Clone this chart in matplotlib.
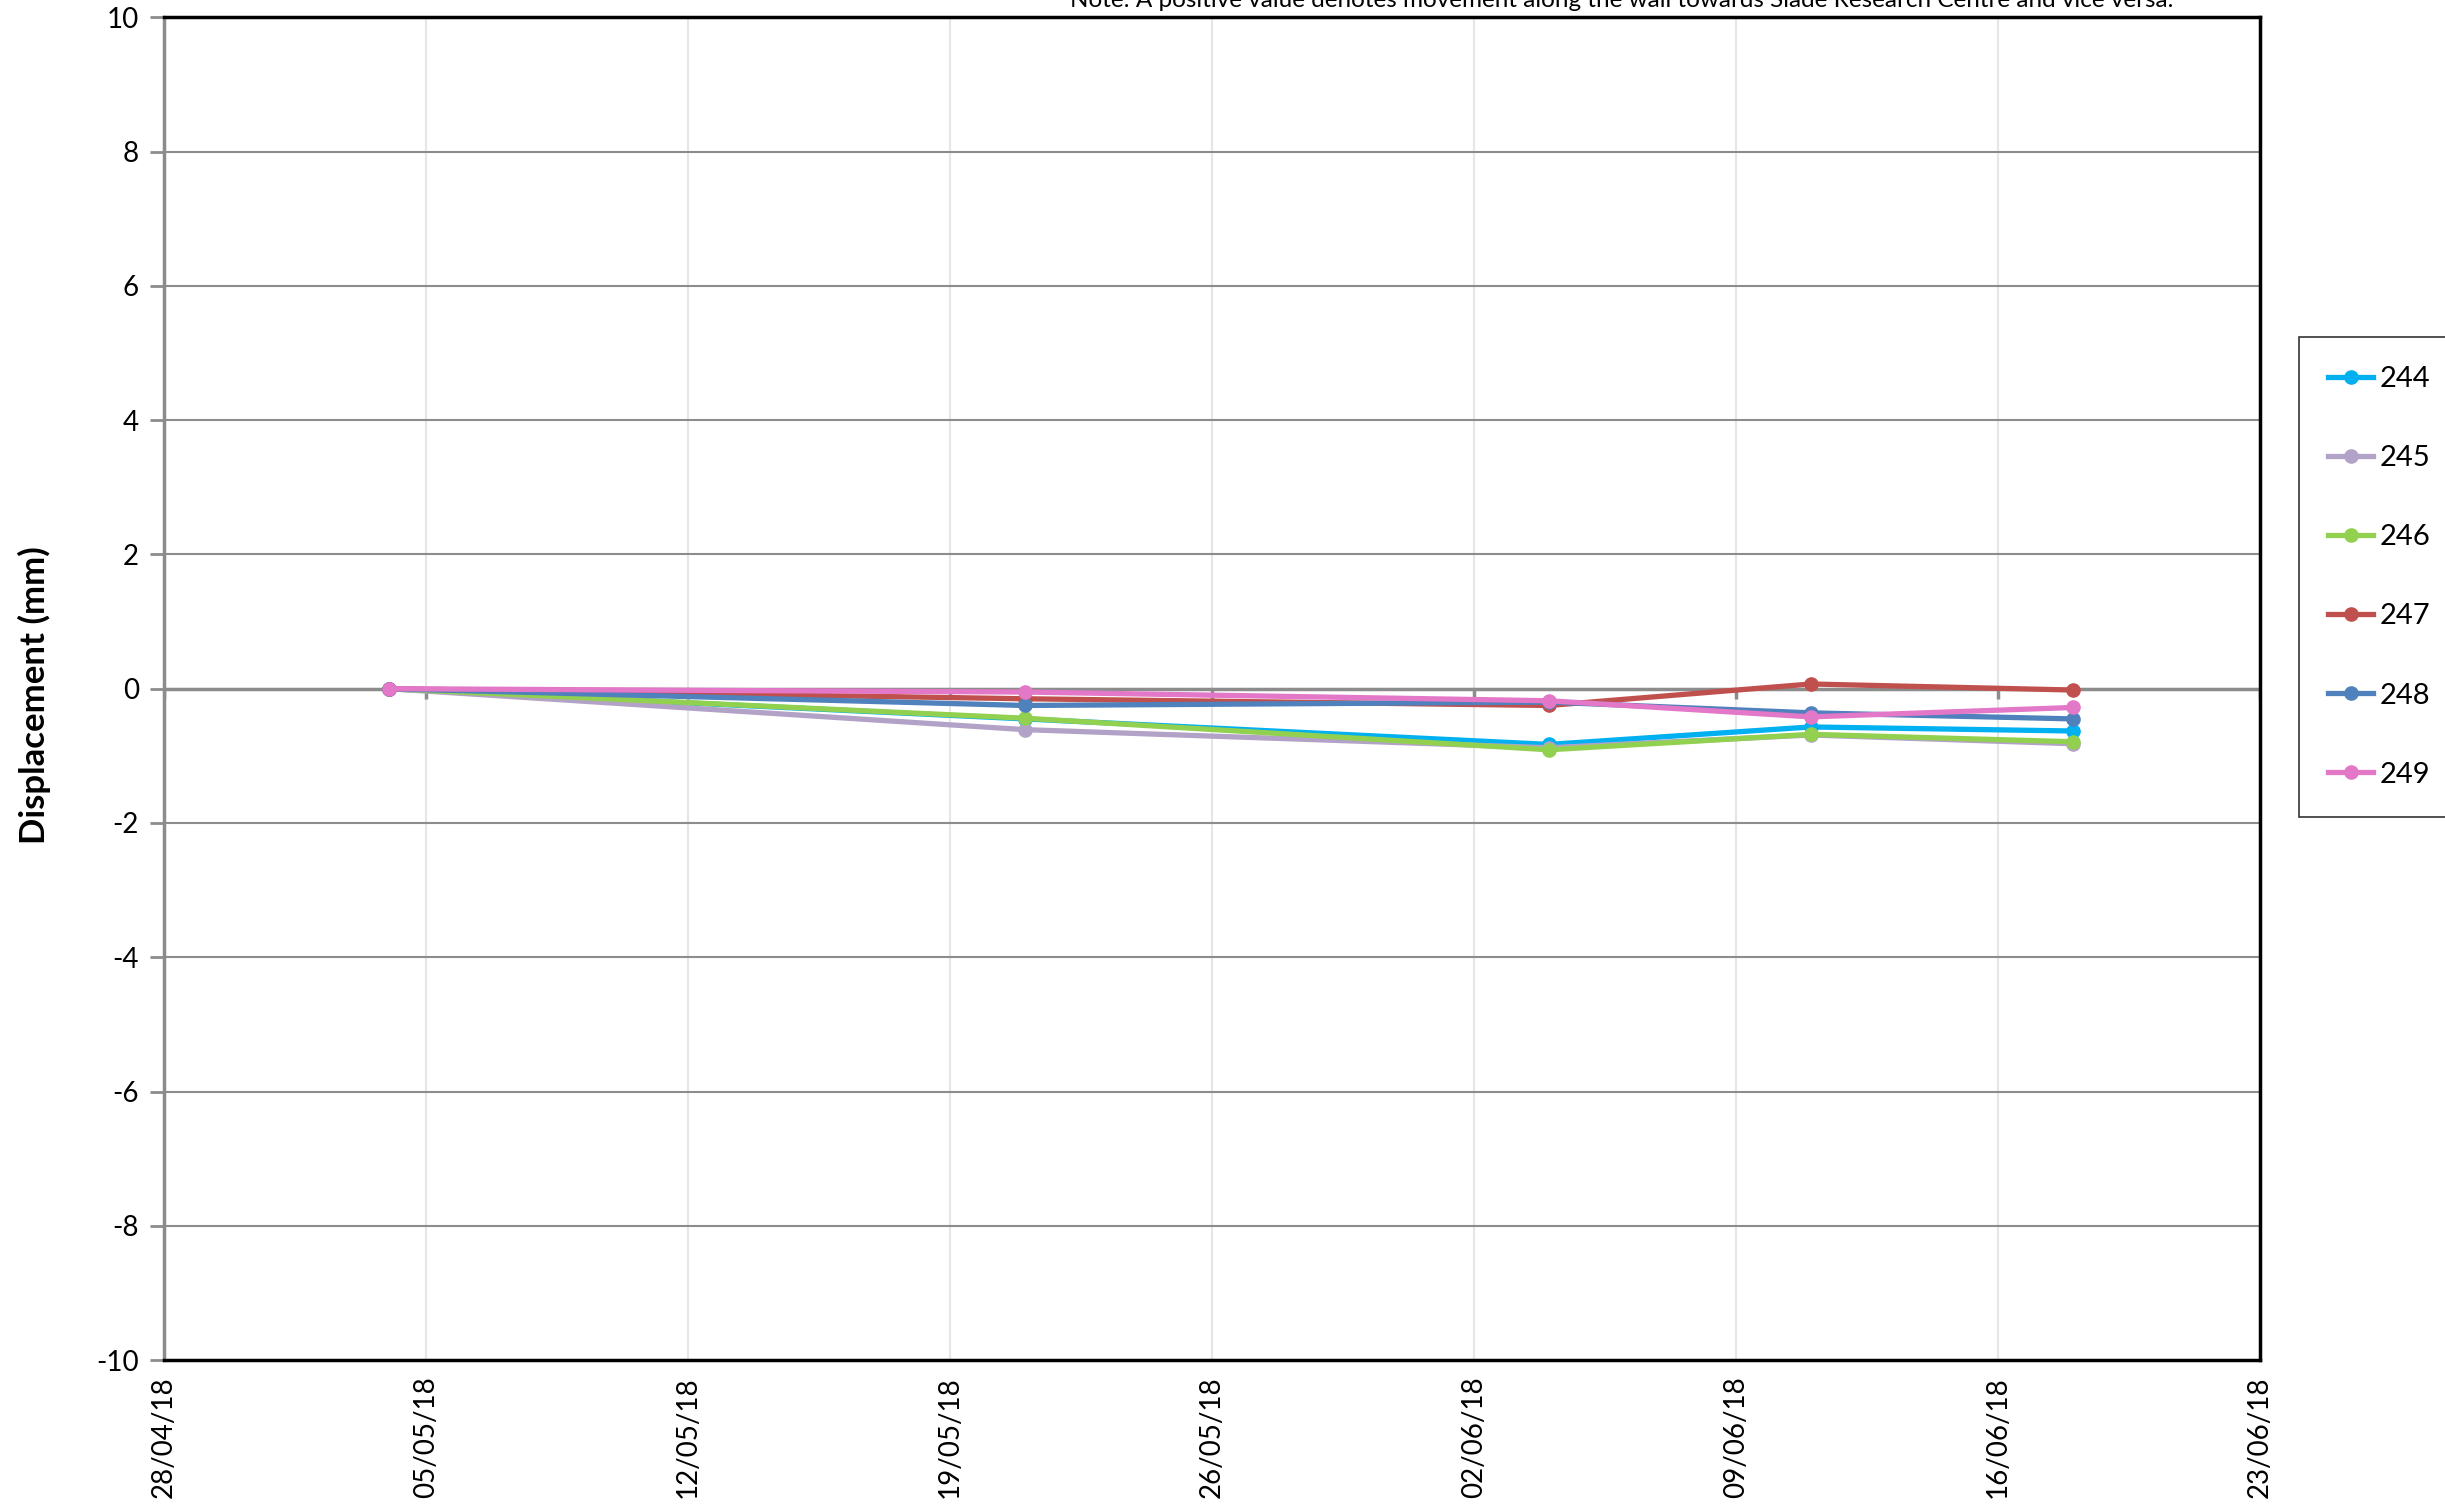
import matplotlib
matplotlib.use("Agg")
import matplotlib.pyplot as plt
import matplotlib.dates as mdates
import numpy as np
import pandas as pd

# survey dates and displacement readings (mm) per monitoring point
dates = pd.to_datetime(["2018-05-04", "2018-05-21", "2018-06-04", "2018-06-11", "2018-06-18"])
p244 = [0.0, -0.45, -0.83, -0.57, -0.63]
p245 = [0.0, -0.61, -0.88, -0.69, -0.82]
p246 = [0.0, -0.44, -0.91, -0.68, -0.79]
p247 = [0.0, -0.15, -0.25, 0.07, -0.02]
p248 = [0.0, -0.25, -0.20, -0.36, -0.45]
p249 = [0.0, -0.05, -0.18, -0.42, -0.28]

labels = ["244", "245", "246", "247", "248", "249"]
series = [p244, p245, p246, p247, p248, p249]
colors = ["#00B0F0", "#B3A2C7", "#92D050", "#C0504D", "#4F81BD", "#E377C8"]

x_start = pd.Timestamp("2018-04-28")
x_end = pd.Timestamp("2018-06-23")

plt.rcParams["font.family"] = ["Lato", "DejaVu Sans"]
plt.rcParams["axes.unicode_minus"] = False

fig = plt.figure(figsize=(24.45, 15.05), dpi=100)
ax = fig.add_axes([0.0671, 0.0963, 0.8572, 0.8922])

ticks = pd.date_range(x_start, x_end, freq="7D")

# grid
for t in ticks:
    ax.axvline(t, color="#e6e6e6", lw=1.5, zorder=0)
for yv in range(-8, 10, 2):
    ax.axhline(yv, color="#8c8c8c", lw=1.5, zorder=0)
ax.axhline(0, color="#8c8c8c", lw=2.5, zorder=1)
ax.vlines(ticks, 0, -0.15, color="#8c8c8c", lw=2.5, zorder=1)

for lab, vals, c in zip(labels, series, colors):
    ax.plot(dates, vals, color=c, lw=3.8, marker="o", markersize=9.5, label=lab, zorder=3)

ax.set_xlim(x_start, x_end)
ax.set_ylim(-10, 10)
ax.set_yticks(np.arange(-10, 11, 2))
ax.set_xticks(ticks)
ax.xaxis.set_major_formatter(mdates.DateFormatter("%d/%m/%y"))
ax.tick_params(axis="x", length=0, pad=12, labelsize=20, labelrotation=90)
ax.tick_params(axis="y", length=10, width=2, color="#8c8c8c", pad=8, labelsize=20)

for s in ["top", "right", "bottom"]:
    ax.spines[s].set_color("black")
    ax.spines[s].set_linewidth(2.5)
ax.spines["left"].set_color("#8c8c8c")
ax.spines["left"].set_linewidth(2.5)

fig.text(34 / 2445, 1 - 695 / 1505, "Displacement (mm)", rotation=90, fontsize=25,
         fontweight="bold", ha="center", va="center")

# note sits at the very top edge, partly cut off as in the original export
fig.text(1622 / 2445, 1 - 7 / 1505,
         "Note: A positive value denotes movement along the wall towards Slade Research Centre and vice versa.",
         fontsize=17.5, ha="center", va="baseline")

leg = fig.legend(loc="upper left", bbox_to_anchor=(2299 / 2445, 1 - 337 / 1505),
                 fontsize=21, frameon=True, fancybox=False, edgecolor="black",
                 labelspacing=1.82, handlelength=1.55, handletextpad=0.22,
                 borderpad=1.0, borderaxespad=0)
leg.get_frame().set_linewidth(1.2)

fig.savefig("out.png", dpi=100)
